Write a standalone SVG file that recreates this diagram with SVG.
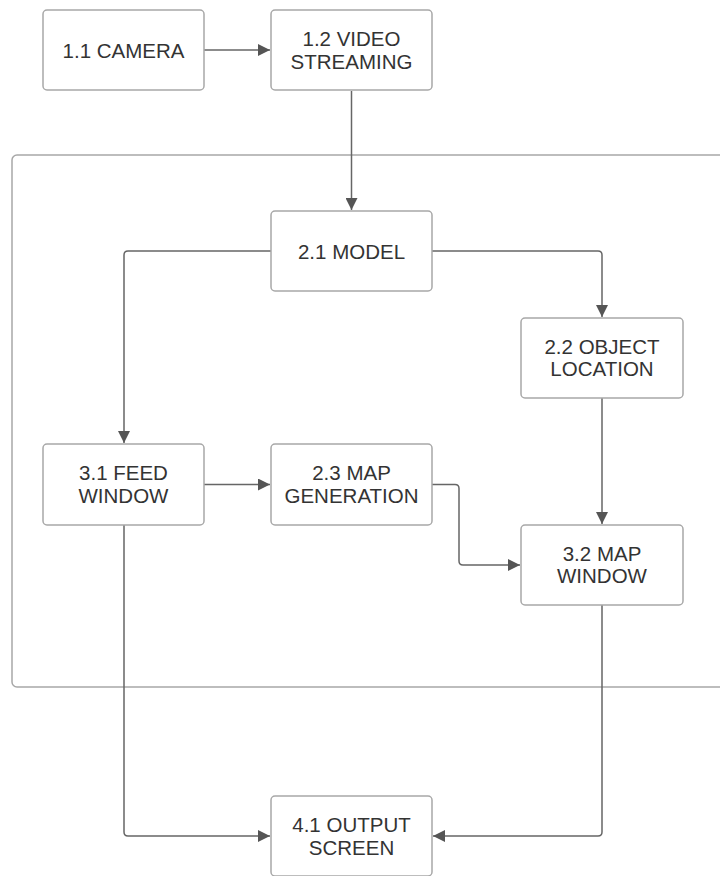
<svg xmlns="http://www.w3.org/2000/svg" width="720" height="876" viewBox="0 0 720 876">
<style>
.box{fill:#fff;stroke:#a8a8a8;stroke-width:1.5}
.cont{fill:none;stroke:#a8a8a8;stroke-width:1.5}
.lbl{font-family:"Liberation Sans",Arial,sans-serif;font-size:20.5px;fill:#333;text-anchor:middle}
.edge{fill:none;stroke:#666;stroke-width:1.5}
</style>
<defs>
<marker id="arr" markerWidth="12" markerHeight="12" refX="10" refY="5" orient="auto" markerUnits="userSpaceOnUse" viewBox="0 0 10 10">
<path d="M0,0 L10,5 L0,10 Z" fill="#555"/>
</marker>
</defs>
<rect width="720" height="876" fill="#fff"/>
<rect class="cont" x="12" y="155" width="730" height="532" rx="5"/>
<g id="connectors">
<path class="edge" d="M204,50 H270" marker-end="url(#arr)"/>
<path class="edge" d="M351.5,91 V210" marker-end="url(#arr)"/>
<path class="edge" d="M271,251 H128 Q124,251 124,255 V443" marker-end="url(#arr)"/>
<path class="edge" d="M432,251 H598 Q602,251 602,255 V317" marker-end="url(#arr)"/>
<path class="edge" d="M602,398 V524" marker-end="url(#arr)"/>
<path class="edge" d="M204,484.5 H270" marker-end="url(#arr)"/>
<path class="edge" d="M432,484.5 H455 Q459,484.5 459,488.5 V561 Q459,565 463,565 H520" marker-end="url(#arr)"/>
<path class="edge" d="M124,525 V832 Q124,836 128,836 H270" marker-end="url(#arr)"/>
<path class="edge" d="M602,605 V832 Q602,836 598,836 H433" marker-end="url(#arr)"/>
</g>
<g id="n11"><rect class="box" x="43" y="10" width="161" height="80" rx="4"/><text class="lbl" x="123.5" y="57.5">1.1 CAMERA</text></g>
<g id="n12"><rect class="box" x="271" y="10" width="161" height="80" rx="4"/><text class="lbl" x="351.5" y="46">1.2 VIDEO</text><text class="lbl" x="351.5" y="68.5">STREAMING</text></g>
<g id="n21"><rect class="box" x="271" y="211" width="161" height="80" rx="4"/><text class="lbl" x="351.5" y="258.5">2.1 MODEL</text></g>
<g id="n22"><rect class="box" x="521" y="318" width="162" height="80" rx="4"/><text class="lbl" x="602" y="353.5">2.2 OBJECT</text><text class="lbl" x="602" y="376">LOCATION</text></g>
<g id="n31"><rect class="box" x="43" y="444" width="161" height="81" rx="4"/><text class="lbl" x="123.5" y="480">3.1 FEED</text><text class="lbl" x="123.5" y="502.5">WINDOW</text></g>
<g id="n23"><rect class="box" x="271" y="444" width="161" height="81" rx="4"/><text class="lbl" x="351.5" y="480">2.3 MAP</text><text class="lbl" x="351.5" y="502.5">GENERATION</text></g>
<g id="n32"><rect class="box" x="521" y="525" width="162" height="80" rx="4"/><text class="lbl" x="602" y="560.5">3.2 MAP</text><text class="lbl" x="602" y="583">WINDOW</text></g>
<g id="n41"><rect class="box" x="271" y="796" width="161" height="80" rx="4"/><text class="lbl" x="351.5" y="832">4.1 OUTPUT</text><text class="lbl" x="351.5" y="854.5">SCREEN</text></g>
</svg>
